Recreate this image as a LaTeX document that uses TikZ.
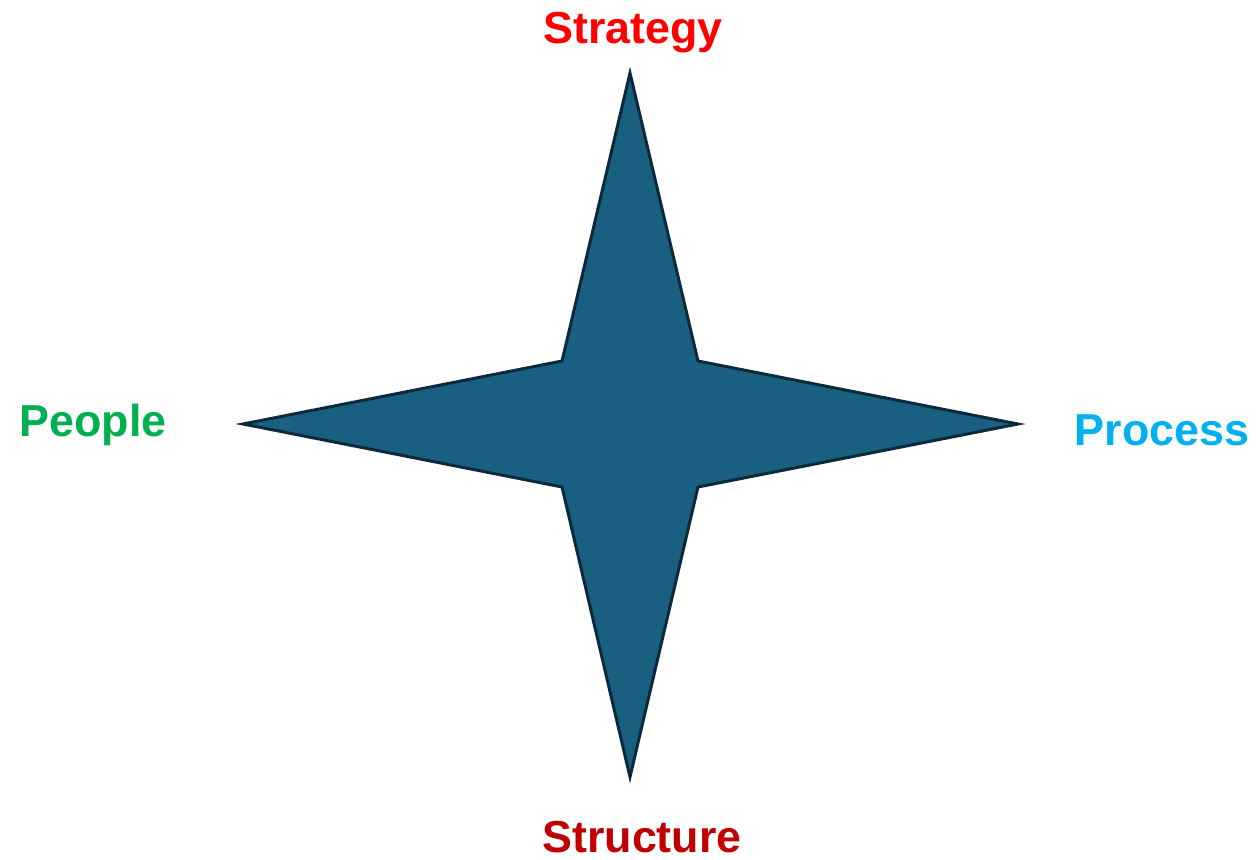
\documentclass[tikz,border=0pt]{standalone}
\usepackage{fontspec}
\setmainfont{Liberation Sans}
\usepackage{tikz}
\definecolor{STARfill}{HTML}{185F80}
\definecolor{STARedge}{HTML}{0C2A3C}
\definecolor{LBLred}{HTML}{FF0000}
\definecolor{LBLgreen}{HTML}{00B050}
\definecolor{LBLcyan}{HTML}{00B0F0}
\definecolor{LBLdark}{HTML}{C00000}
\tikzstyle{star} = [fill=STARfill, draw=STARedge, line width=1.7pt, line join=miter]
\tikzstyle{lbl} = [anchor=base, inner sep=0pt, font=\fontsize{25.5}{30}\selectfont\bfseries]
\begin{document}
\begin{tikzpicture}[x=0.02cm, y=-0.02cm]

\useasboundingbox (0,0) rectangle (1258,859);

% four-pointed star
\coordinate (top) at (630,73);
\coordinate (rt) at (1018,424);
\coordinate (bot) at (630,777);
\coordinate (lt) at (243,424);

\draw [star] (top) -- (698,361) -- (rt) -- (698,487) -- (bot) -- (562,487) -- (lt) -- (562,361) -- cycle;

\node (strategy) [lbl, text=LBLred] at (633,43) {Strategy};
\node (people) [lbl, text=LBLgreen] at (93,436) {People};
\node (process) [lbl, text=LBLcyan] at (1162,445) {Process};
\node (structure) [lbl, text=LBLdark] at (642,852) {Structure};

\end{tikzpicture}
\end{document}
